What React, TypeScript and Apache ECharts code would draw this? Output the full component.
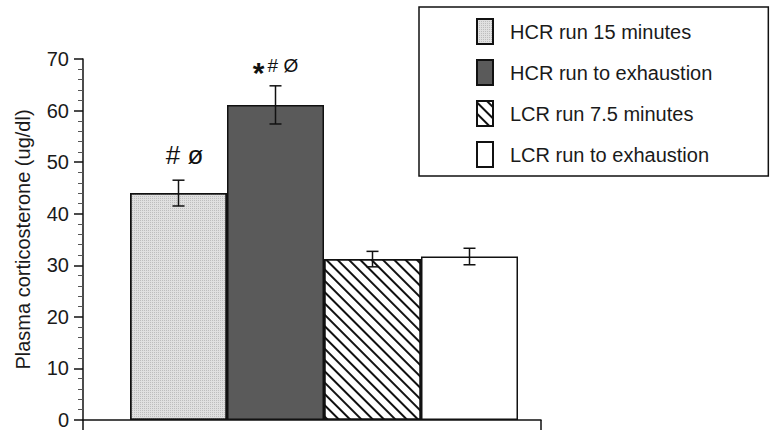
import React, { useEffect, useRef } from "react";
import * as echarts from "echarts";

// Group names (legend + bar order)
const groups = [
  "HCR run 15 minutes",
  "HCR run to exhaustion",
  "LCR run 7.5 minutes",
  "LCR run to exhaustion",
];
// Mean plasma corticosterone (ug/dl)
const means = [44.0, 61.1, 31.2, 31.7];
// Standard error of each mean
const errors = [2.5, 3.7, 1.5, 1.6];
// Significance marks above the bars
const marks = ["{big|# ø}", "{star|*}{small|# Ø}", "", ""];
// Y-axis ticks
const yMin = 0;
const yMax = 70;
const yStep = 10;

const FONT = "'Liberation Sans', Arial, sans-serif";

const barStyles = [
  {
    color: "#e0e0e0",
    decal: {
      symbol: "rect",
      symbolSize: 1,
      dashArrayX: [1, 1],
      dashArrayY: [1, 1],
      color: "rgba(160,160,160,0.55)",
    },
  },
  { color: "#5a5a5a" },
  {
    color: "#ffffff",
    decal: {
      symbol: "rect",
      symbolSize: 1,
      dashArrayX: [1, 0],
      dashArrayY: [1.6, 5.6],
      rotation: Math.PI / 4,
      color: "#111",
    },
  },
  { color: "#ffffff" },
];

export default function App() {
  const ref = useRef<HTMLDivElement>(null);

  useEffect(() => {
    if (!ref.current) return;
    const chart = echarts.init(ref.current, null, { renderer: "svg" });

    const barSeries = groups.map((name, i) => ({
      name,
      type: "bar",
      stack: "all",
      xAxisIndex: 0,
      yAxisIndex: 0,
      barWidth: "100%",
      data: means.map((v, j) => (j === i ? v : "-")),
      itemStyle: {
        ...barStyles[i],
        borderColor: "#111",
        borderWidth: 1.5,
      },
      label: marks[i]
        ? {
            show: true,
            position: "top",
            distance: i === 0 ? 25 : 16,
            offset: [i === 0 ? 6 : 0, 0],
            formatter: marks[i],
            rich: {
              big: { fontFamily: FONT, fontSize: 26, color: "#111" },
              star: {
                fontFamily: FONT,
                fontSize: 30,
                fontWeight: "bold",
                color: "#111",
                padding: [0, 3, 0, 0],
              },
              small: {
                fontFamily: FONT,
                fontSize: 19,
                color: "#111",
                padding: [0, 0, 14, 0],
              },
            },
          }
        : { show: false },
      emphasis: { disabled: true },
    }));

    const errorSeries = {
      type: "custom",
      xAxisIndex: 0,
      yAxisIndex: 0,
      data: means.map((m, i) => [i, m, errors[i]]),
      encode: { x: 0, y: 1 },
      z: 5,
      renderItem: (params: any, api: any) => {
        const idx = api.value(0);
        const m = api.value(1);
        const e = api.value(2);
        const top = api.coord([idx, m + e]);
        const bot = api.coord([idx, m - e]);
        const hw = 6;
        const style = { stroke: "#111", lineWidth: 1.5 };
        return {
          type: "group",
          children: [
            { type: "line", shape: { x1: top[0], y1: top[1], x2: bot[0], y2: bot[1] }, style },
            { type: "line", shape: { x1: top[0] - hw, y1: top[1], x2: top[0] + hw, y2: top[1] }, style },
            { type: "line", shape: { x1: bot[0] - hw, y1: bot[1], x2: bot[0] + hw, y2: bot[1] }, style },
          ],
        };
      },
    };

    chart.setOption({
      animation: false,
      backgroundColor: "#ffffff",
      grid: [
        // bars
        { left: 130, right: 255, top: 59, bottom: 12 },
        // axes frame
        { left: 83, right: 232, top: 59, bottom: 12 },
      ],
      xAxis: [
        {
          type: "category",
          gridIndex: 0,
          data: groups,
          show: false,
        },
        {
          type: "category",
          gridIndex: 1,
          data: [""],
          boundaryGap: true,
          axisLine: { show: true, lineStyle: { color: "#111", width: 1.5 } },
          axisTick: { show: true, length: 10, lineStyle: { color: "#111", width: 1.5 } },
          axisLabel: { show: false },
        },
      ],
      yAxis: [
        {
          type: "value",
          gridIndex: 0,
          min: yMin,
          max: yMax,
          interval: yStep,
          show: false,
        },
        {
          type: "value",
          gridIndex: 1,
          min: yMin,
          max: yMax,
          interval: yStep,
          name: "Plasma corticosterone (ug/dl)",
          nameLocation: "middle",
          nameGap: 50,
          nameTextStyle: { fontFamily: FONT, fontSize: 20, color: "#1a1a1a" },
          axisLine: { show: true, lineStyle: { color: "#111", width: 1.5 } },
          axisTick: { show: true, length: 9, lineStyle: { color: "#111", width: 1.5 } },
          minorTick: { show: true, splitNumber: 5, length: 5, lineStyle: { color: "#555", width: 1 } },
          splitLine: { show: false },
          minorSplitLine: { show: false },
          axisLabel: { fontFamily: FONT, fontSize: 20, color: "#1a1a1a", margin: 14 },
        },
      ],
      legend: {
        data: groups.map((name) => ({ name, icon: "rect" })),
        orient: "vertical",
        left: 419,
        top: 7,
        itemWidth: 16,
        itemHeight: 25,
        itemGap: 14,
        padding: [11, 56, 8, 57],
        borderColor: "#111",
        borderWidth: 1.5,
        selectedMode: false,
        textStyle: {
          fontFamily: FONT,
          fontSize: 20,
          color: "#1a1a1a",
          padding: [0, 0, 0, 12],
        },
      },
      series: [...barSeries, errorSeries],
    });

    return () => chart.dispose();
  }, []);

  return (
    <div
      ref={ref}
      style={{ position: "fixed", left: 0, top: 0, width: 773, height: 432, background: "#fff" }}
    />
  );
}
